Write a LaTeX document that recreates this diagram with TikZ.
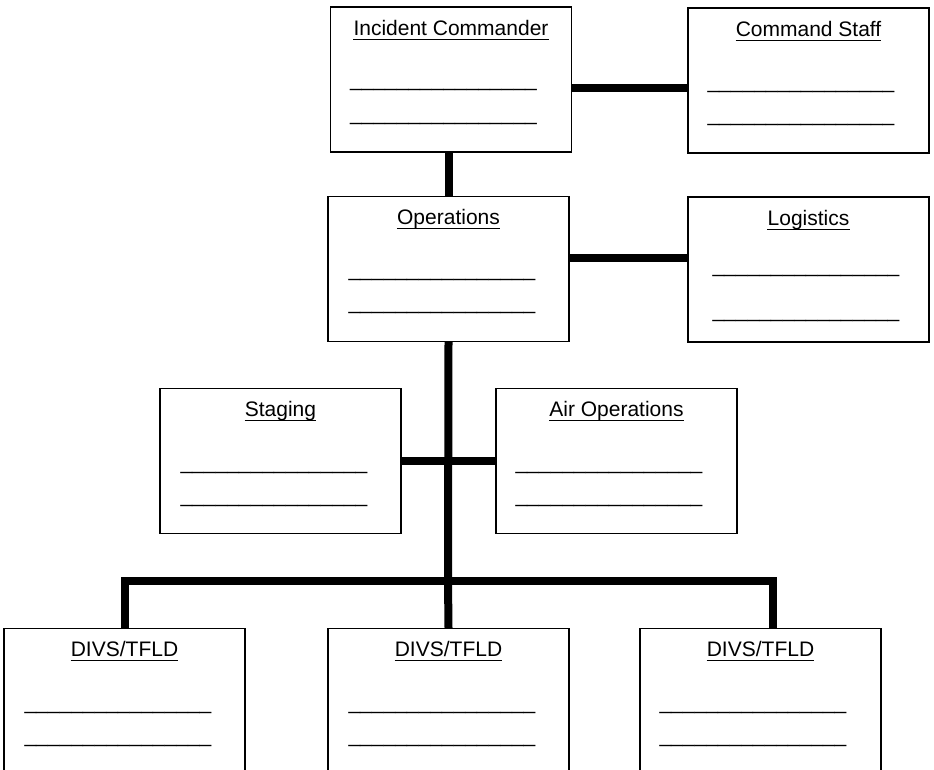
\documentclass[tikz,border=0pt]{standalone}
\usepackage{fontspec}
\setmainfont{Liberation Sans}
\begin{document}
\begin{tikzpicture}
    [x=1pt,y=-1pt,
    box/.style={draw,line width=1.3pt,minimum width=241pt,minimum height=145pt,inner sep=0pt},
    title/.style={anchor=base,inner sep=0pt,font=\fontsize{21}{25}\selectfont},
    blank/.style={anchor=base west,inner sep=0pt,font=\fontsize{21}{25}\selectfont},
    link/.style={line width=8pt}]
    \useasboundingbox (0,0) rectangle (934,770);
    % boxes: name / centre x / centre y / title / line offsets
    \foreach \name/\cx/\cy/\txt/\lx/\la/\lb in
      {ic/451/79.5/{Incident Commander}/20/84/118,
       cs/808.5/80.5/{Command Staff}/20/85/118,
       ops/448.5/269/{Operations}/21/84/117,
       log/808.5/269.5/{Logistics}/25/80/125,
       stg/280.5/461/{Staging}/21/85/118,
       air/616.5/461/{Air Operations}/20/85/118,
       d1/124.5/701/{DIVS/TFLD}/21/85/118,
       d2/448.5/701/{DIVS/TFLD}/21/85/118,
       d3/760.5/701/{DIVS/TFLD}/20/85/118}
    {
      \node[box] (\name) at (\cx,\cy) {};
      \node[title] (\name-t) at ([yshift=-29pt]\name.north) {\txt};
      \draw[line width=1.2pt] ([yshift=-4pt]\name-t.base west) -- ([yshift=-4pt]\name-t.base east);
      \node[blank] (\name-a) at ([xshift=\lx pt,yshift=-\la pt+3.5pt]\name.north west) {\_\_\_\_\_\_\_\_\_\_\_\_\_\_\_\_};
      \node[blank] (\name-b) at ([xshift=\lx pt,yshift=-\lb pt+3.5pt]\name.north west) {\_\_\_\_\_\_\_\_\_\_\_\_\_\_\_\_};
    }
    \coordinate (hub) at (448,581);
    % connectors
    \draw[link] (ops.north |- ic.south) -- (ops.north);
    \draw[link] ([yshift=-9pt]ic.east) -- ([yshift=-9pt]ic.east -| cs.west);
    \draw[link] ([yshift=11pt]ops.east) -- ([yshift=11pt]ops.east -| log.west);
    \draw[link] (ops.south) -- (hub);
    \draw[link] (stg.east) -- (air.west);
    \draw[link] (d1.north) -- (d1.north |- hub) -- ([xshift=12.5pt]d3.north |- hub) -- ([xshift=12.5pt]d3.north);
    \draw[link] (hub) -- (d2.north);
\end{tikzpicture}
\end{document}
